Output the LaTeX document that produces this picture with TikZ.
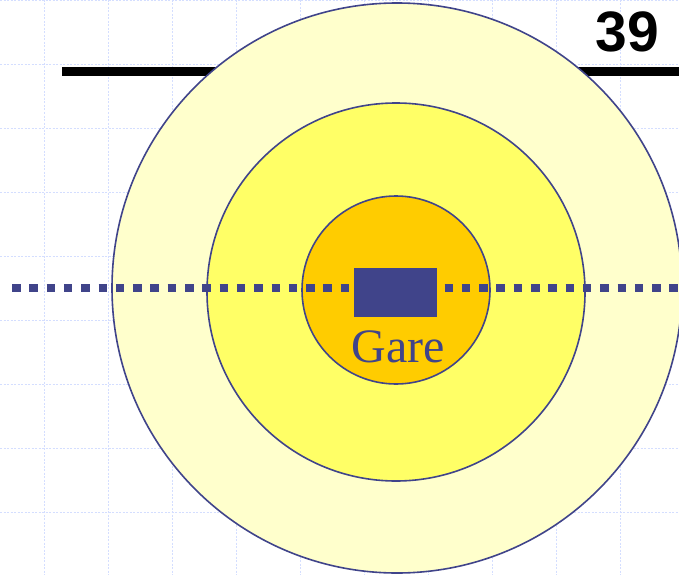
\documentclass[tikz,border=0pt]{standalone}
\usepackage{fontspec}
\setmainfont{Liberation Serif}
\newfontfamily\numfont{Liberation Sans}
\definecolor{gridc}{HTML}{D4DEFF}
\definecolor{navy}{HTML}{40448A}
\definecolor{ringA}{HTML}{FFFFCC}
\definecolor{ringB}{HTML}{FFFF66}
\definecolor{ringC}{HTML}{FFCC00}
\tikzset{
  ring/.style={circle, draw=navy, line width=1.6pt, inner sep=0pt},
  gridline/.style={gridc, line width=0.8pt, dash pattern=on 2pt off 1.5pt},
}
\begin{document}
\begin{tikzpicture}[x=1pt,y=-1pt]
\useasboundingbox (0,0) rectangle (679,575);
\fill[white] (0,0) rectangle (679,575);
% grid
\foreach \gx in {44,108,...,684} \draw[gridline] (\gx,0) -- (\gx,575);
\foreach \gy in {0,64,...,575} \draw[gridline] (0,\gy) -- (679,\gy);
% header rule
\coordinate (ruleL) at (62,72);
\coordinate (ruleR) at (679,72);
\draw[black, line width=9pt] (ruleL) -- (ruleR);
% rings
\node[ring, fill=ringA, minimum size=570pt] (outer) at (397,288) {};
\node[ring, fill=ringB, minimum size=378pt] (middle) at (396,292) {};
\node[ring, fill=ringC, minimum size=188pt] (inner) at (396,290) {};
% dotted line
\coordinate (dotL) at (12,288);
\coordinate (dotR) at (679,288);
\draw[navy, line width=8.5pt, dash pattern=on 8.5pt off 8.8pt] (dotL) -- (dotR);
% station
\node[fill=navy, minimum width=83pt, minimum height=49pt, inner sep=0pt] (station) at (395.5,292.5) {};
\node[text=navy, font=\fontsize{48}{50}\selectfont, anchor=base] (gare) at (398,362) {Gare};
% page number
\node[font=\numfont\bfseries\fontsize{57}{57}\selectfont, anchor=base east, inner sep=0pt] (num) at (659,52) {39};
\end{tikzpicture}
\end{document}
